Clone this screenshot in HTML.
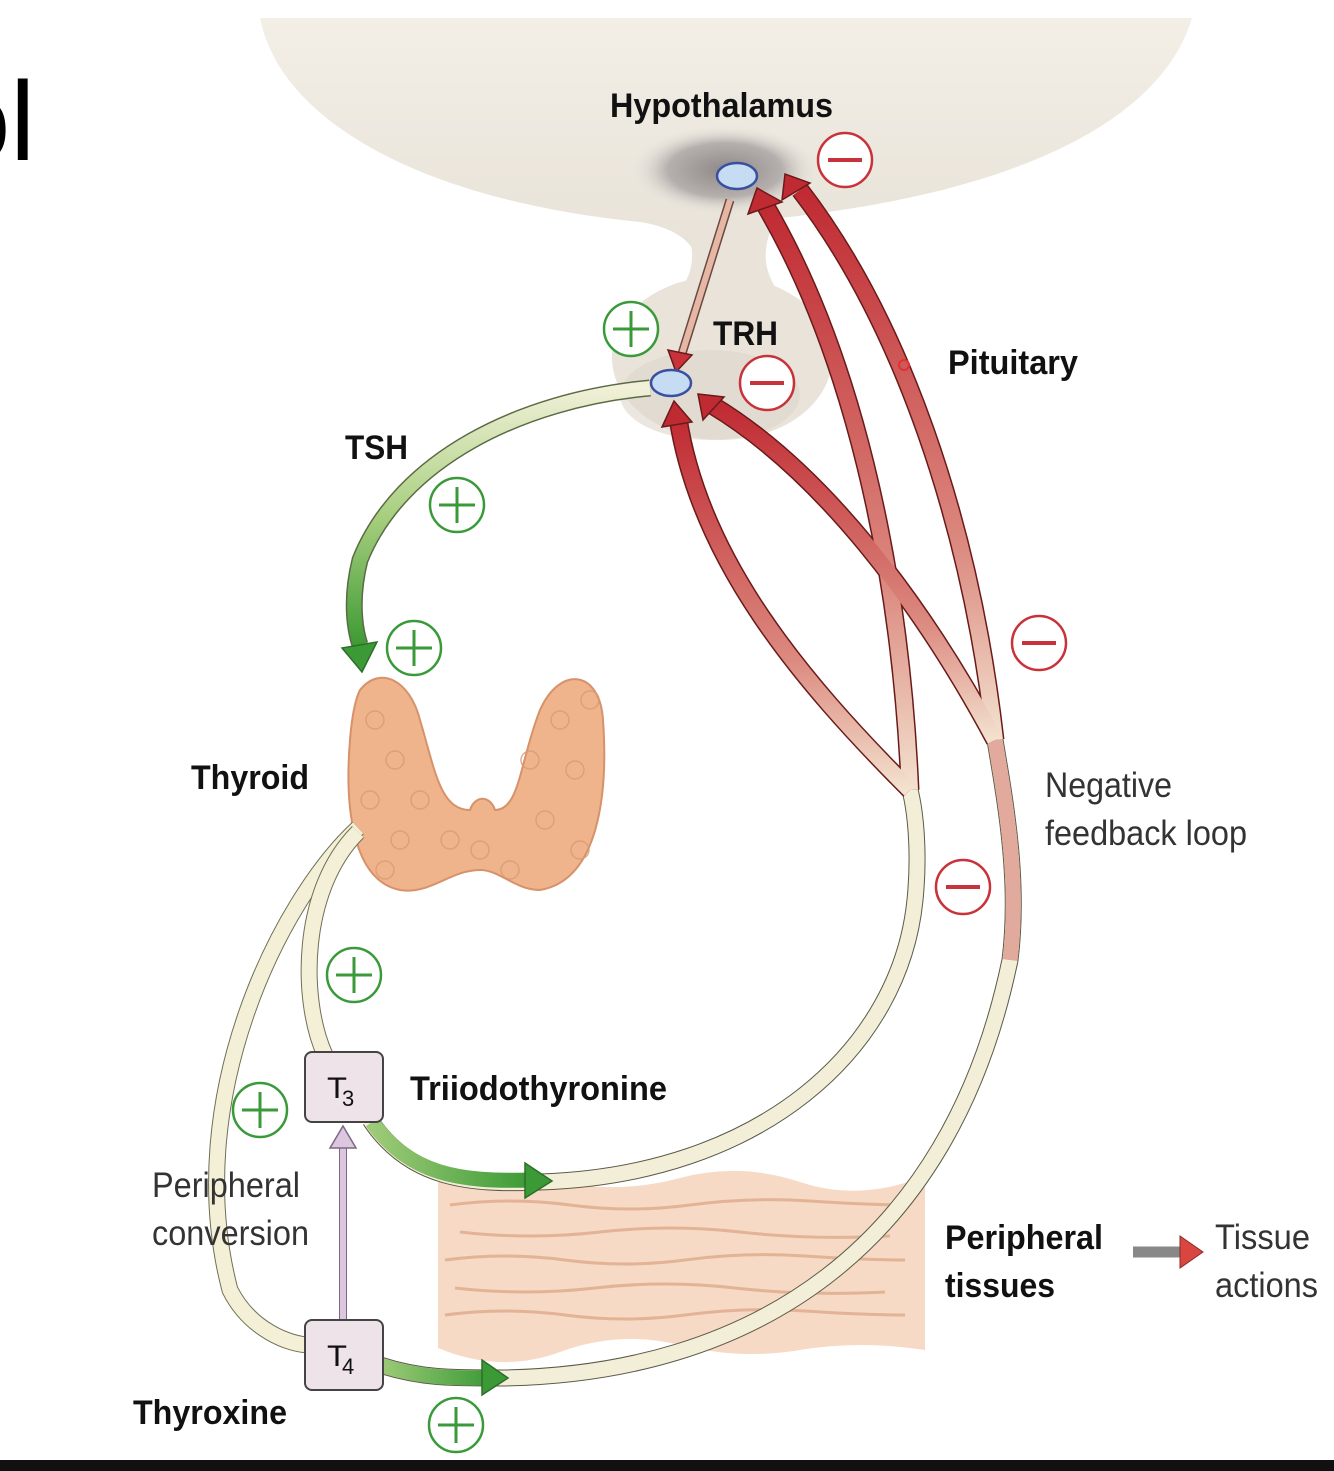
<!DOCTYPE html>
<html><head><meta charset="utf-8"><style>
html,body{margin:0;padding:0;background:#fff;width:1334px;height:1471px;overflow:hidden}
svg{display:block}
text{font-family:"Liberation Sans",sans-serif}
</style></head><body>
<svg width="1334" height="1471" viewBox="0 0 1334 1471" xmlns="http://www.w3.org/2000/svg">
<defs>
<radialGradient id="shade" cx="0.5" cy="0.5" r="0.5"><stop offset="0" stop-color="#8e8888"/><stop offset="0.6" stop-color="#b5b0ad"/><stop offset="1" stop-color="#ece7df" stop-opacity="0"/></radialGradient>
<linearGradient id="bowl" x1="0" y1="0" x2="0" y2="1"><stop offset="0" stop-color="#f3efe6"/><stop offset="1" stop-color="#e6e0d6"/></linearGradient>
<linearGradient id="tsh" x1="0" y1="0" x2="0" y2="1"><stop offset="0" stop-color="#f1f0d8"/><stop offset="0.5" stop-color="#a7cf7e"/><stop offset="1" stop-color="#3e9a35"/></linearGradient>
<linearGradient id="redv" x1="0" y1="1" x2="0" y2="0"><stop offset="0" stop-color="#f3e2cf"/><stop offset="0.35" stop-color="#dc8a80"/><stop offset="1" stop-color="#c02a32"/></linearGradient>
<linearGradient id="grn" x1="0" y1="0" x2="1" y2="0"><stop offset="0" stop-color="#9ecb78"/><stop offset="1" stop-color="#3c9a36"/></linearGradient>
<linearGradient id="tact" x1="0" y1="0" x2="1" y2="0"><stop offset="0" stop-color="#f3eee0"/><stop offset="1" stop-color="#d9453f"/></linearGradient>
</defs>

<text x="-52" y="160" font-size="112" fill="#000">ol</text>

<!-- hypothalamus bowl -->
<path d="M260,18 L1192,18 C1165,110 1040,190 780,218 C760,230 755,260 765,290 L700,290 C705,255 690,230 640,222 C420,200 280,120 260,18 Z" fill="url(#bowl)"/>
<ellipse cx="722" cy="358" rx="110" ry="82" fill="#e9e3da"/>
<path d="M685,225 C700,260 690,285 665,305 L790,305 C765,280 758,255 775,220 Z" fill="#e9e3da"/>
<ellipse cx="725" cy="170" rx="95" ry="45" fill="url(#shade)"/>
<ellipse cx="710" cy="395" rx="90" ry="45" fill="#ddd6cc" opacity="0.6"/>

<!-- tissue -->
<path d="M438,1180 Q500,1170 560,1182 T680,1178 T800,1182 T925,1176 L925,1350 Q860,1340 800,1350 T680,1345 T560,1352 T438,1348 Z" fill="#f6dac5"/>
<g stroke="#e2b394" stroke-width="3" fill="none">
<path d="M450,1205 q60,-8 120,0 t120,0 t120,-4 t100,4"/>
<path d="M460,1232 q70,8 140,0 t140,0 t150,4"/>
<path d="M445,1260 q60,-8 120,0 t120,0 t120,-4 t100,4"/>
<path d="M455,1288 q70,8 140,0 t140,0 t150,4"/>
<path d="M445,1315 q60,-8 120,0 t120,0 t120,-4 t100,4"/>
</g>

<!-- thyroid -->
<path d="M360,690 C380,665 410,680 420,720 C435,770 440,810 470,810 C475,795 490,795 495,810 C520,810 520,760 540,710 C560,665 600,670 603,720 C608,790 600,880 540,890 C515,890 500,870 480,870 C450,870 430,895 400,890 C350,880 345,800 350,740 C352,715 355,700 360,690 Z" fill="#f0b48c" stroke="#d6926a" stroke-width="2"/>
<g fill="none" stroke="#d99a72" stroke-width="1.5" opacity="0.8">
<circle cx="375" cy="720" r="9"/><circle cx="395" cy="760" r="9"/><circle cx="370" cy="800" r="9"/><circle cx="400" cy="840" r="9"/><circle cx="560" cy="720" r="9"/><circle cx="575" cy="770" r="9"/><circle cx="545" cy="820" r="9"/><circle cx="580" cy="850" r="9"/><circle cx="480" cy="850" r="9"/><circle cx="510" cy="870" r="9"/><circle cx="385" cy="870" r="9"/><circle cx="420" cy="800" r="9"/><circle cx="590" cy="700" r="9"/><circle cx="530" cy="760" r="9"/><circle cx="450" cy="840" r="9"/></g>

<!-- thyroid outputs -->
<path d="M358,828 C280,900 180,1100 230,1290 C250,1330 290,1345 310,1345" fill="none" stroke="#6f6f55" stroke-width="17"/>
<path d="M358,828 C280,900 180,1100 230,1290 C250,1330 290,1345 310,1345" fill="none" stroke="#f4f0d8" stroke-width="15"/>
<path d="M358,832 C300,890 300,1000 325,1055" fill="none" stroke="#6f6f55" stroke-width="17"/>
<path d="M358,832 C300,890 300,1000 325,1055" fill="none" stroke="#f4f0d8" stroke-width="15"/>

<!-- T3 arc -->
<path d="M370,1120 C410,1180 470,1185 540,1182 C760,1175 900,1050 915,900 C920,850 915,810 910,790" fill="none" stroke="#5a5a48" stroke-width="17"/>
<path d="M370,1120 C410,1180 470,1185 540,1182 C760,1175 900,1050 915,900 C920,850 915,810 910,790" fill="none" stroke="#f3eed8" stroke-width="15"/>
<path d="M372,1122 C410,1175 460,1182 530,1180" fill="none" stroke="url(#grn)" stroke-width="15"/>
<polygon points="525,1163 552,1181 525,1198" fill="#3c9a36" stroke="#2d6e2a" stroke-width="1.5"/>

<!-- T4 arc -->
<path d="M380,1365 C420,1378 450,1378 500,1378 C750,1375 950,1250 1010,960 C1020,880 1005,800 995,740" fill="none" stroke="#5a5a48" stroke-width="17"/>
<path d="M380,1365 C420,1378 450,1378 500,1378 C750,1375 950,1250 1010,960 C1020,880 1005,800 995,740" fill="none" stroke="#f3eed8" stroke-width="15"/>
<path d="M1010,960 C1020,880 1005,800 995,740" fill="none" stroke="#e2a99d" stroke-width="15"/>
<path d="M380,1365 C420,1378 450,1378 490,1378" fill="none" stroke="url(#grn)" stroke-width="15"/>
<polygon points="482,1360 508,1378 482,1395" fill="#3c9a36" stroke="#2d6e2a" stroke-width="1.5"/>

<!-- red feedback arrows -->
<g fill="none" stroke="#6a1a1a" stroke-width="19">
<path d="M910,790 C900,560 850,350 765,205"/>
<path d="M995,740 C970,520 900,320 800,190"/>
<path d="M910,790 C800,680 700,560 678,418"/>
<path d="M995,740 C920,600 820,470 712,405"/>
</g>
<g fill="none" stroke="url(#redv)" stroke-width="16">
<path d="M910,790 C900,560 850,350 765,205"/>
<path d="M995,740 C970,520 900,320 800,190"/>
<path d="M910,790 C800,680 700,560 678,418"/>
<path d="M995,740 C920,600 820,470 712,405"/>
</g>
<g fill="#c02a32" stroke="#6a1a1a" stroke-width="1.5">
<polygon points="748,214 757,188 782,202"/>
<polygon points="782,200 785,174 810,183"/>
<polygon points="662,427 674,401 692,422"/>
<polygon points="703,420 698,394 724,397"/>
</g>

<!-- TRH arrow -->
<path d="M730,200 L680,360" stroke="#6a4a40" stroke-width="9"/>
<path d="M730,200 L680,360" stroke="#e6b7a5" stroke-width="6"/>
<polygon points="668,350 676,372 692,355" fill="#c8323a" stroke="#6a1a1a" stroke-width="1.5"/>

<!-- TSH arc -->
<path d="M650,388 C520,400 400,460 360,560 C350,600 355,630 360,645" fill="none" stroke="#5a6a45" stroke-width="17"/>
<path d="M650,388 C520,400 400,460 360,560 C350,600 355,630 360,645" fill="none" stroke="url(#tsh)" stroke-width="14"/>
<polygon points="342,648 362,672 377,642" fill="#3c9a36" stroke="#2d6e2a" stroke-width="1.5"/>

<ellipse cx="737" cy="176" rx="20" ry="13" fill="#c5dcf3" stroke="#3a4fa0" stroke-width="2.5"/>
<ellipse cx="671" cy="383" rx="20" ry="13" fill="#c5dcf3" stroke="#3a4fa0" stroke-width="2.5"/>

<!-- T boxes -->
<path d="M343,1135 L343,1320" stroke="#7a6a80" stroke-width="8"/>
<path d="M343,1135 L343,1320" stroke="#dcc6e0" stroke-width="6"/>
<polygon points="330,1148 343,1126 356,1148" fill="#dcc6e0" stroke="#7a6a80" stroke-width="1.5"/>
<rect x="305" y="1052" width="78" height="70" rx="7" fill="#efe3ea" stroke="#444" stroke-width="2"/>
<rect x="305" y="1320" width="78" height="70" rx="7" fill="#efe3ea" stroke="#444" stroke-width="2"/>
<text x="327" y="1098" font-size="30" fill="#111" textLength="20" lengthAdjust="spacingAndGlyphs">T</text><text x="342" y="1106" font-size="22" fill="#111">3</text>
<text x="327" y="1366" font-size="30" fill="#111" textLength="20" lengthAdjust="spacingAndGlyphs">T</text><text x="342" y="1374" font-size="22" fill="#111">4</text>

<g stroke="#3a9a3a" stroke-width="2.5" fill="#fff">
<circle cx="631" cy="329" r="27"/><circle cx="457" cy="505" r="27"/><circle cx="414" cy="648" r="27"/><circle cx="354" cy="975" r="27"/><circle cx="260" cy="1110" r="27"/><circle cx="456" cy="1425" r="27"/>
</g>
<g stroke="#3a9a3a" stroke-width="3">
<path d="M613,329h36M631,311v36"/><path d="M439,505h36M457,487v36"/><path d="M396,648h36M414,630v36"/><path d="M336,975h36M354,957v36"/><path d="M242,1110h36M260,1092v36"/><path d="M438,1425h36M456,1407v36"/>
</g>
<g stroke="#c8323a" stroke-width="2.5" fill="#fff">
<circle cx="845" cy="160" r="27"/><circle cx="767" cy="383" r="27"/><circle cx="1039" cy="643" r="27"/><circle cx="963" cy="887" r="27"/>
</g>
<g stroke="#c8323a" stroke-width="4">
<path d="M828,160h34"/><path d="M750,383h34"/><path d="M1022,643h34"/><path d="M946,887h34"/>
</g>
<circle cx="904" cy="365" r="5" fill="none" stroke="#d33" stroke-width="2"/>

<path d="M1133,1252 L1185,1252" stroke="#888" stroke-width="11"/>
<path d="M1133,1252 L1185,1252" stroke="url(#tact)" stroke-width="8"/>
<polygon points="1180,1236 1203,1252 1180,1268" fill="#d9453f" stroke="#8a2a2a" stroke-width="1"/>

<g fill="#111" font-weight="bold" font-size="34" lengthAdjust="spacingAndGlyphs">
<text x="610" y="117" textLength="223" lengthAdjust="spacingAndGlyphs">Hypothalamus</text>
<text x="713" y="345" textLength="65" lengthAdjust="spacingAndGlyphs">TRH</text>
<text x="948" y="374" textLength="130" lengthAdjust="spacingAndGlyphs">Pituitary</text>
<text x="345" y="459" textLength="63" lengthAdjust="spacingAndGlyphs">TSH</text>
<text x="191" y="789" textLength="118" lengthAdjust="spacingAndGlyphs">Thyroid</text>
<text x="410" y="1100" textLength="257" lengthAdjust="spacingAndGlyphs">Triiodothyronine</text>
<text x="945" y="1249" textLength="158" lengthAdjust="spacingAndGlyphs">Peripheral</text>
<text x="945" y="1297" textLength="110" lengthAdjust="spacingAndGlyphs">tissues</text>
<text x="133" y="1424" textLength="154" lengthAdjust="spacingAndGlyphs">Thyroxine</text>
</g>
<g fill="#333" font-size="35">
<text x="1045" y="797" textLength="127" lengthAdjust="spacingAndGlyphs">Negative</text>
<text x="1045" y="845" textLength="202" lengthAdjust="spacingAndGlyphs">feedback loop</text>
<text x="152" y="1197" textLength="148" lengthAdjust="spacingAndGlyphs">Peripheral</text>
<text x="152" y="1245" textLength="157" lengthAdjust="spacingAndGlyphs">conversion</text>
<text x="1215" y="1249" textLength="95" lengthAdjust="spacingAndGlyphs">Tissue</text>
<text x="1215" y="1297" textLength="103" lengthAdjust="spacingAndGlyphs">actions</text>
</g>

<rect x="0" y="1460" width="1334" height="11" fill="#111"/>
</svg>
</body></html>
